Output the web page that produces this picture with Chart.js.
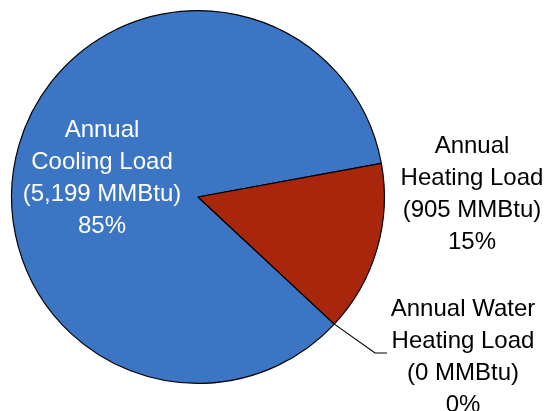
<!DOCTYPE html>
<html>
<head>
<meta charset="utf-8">
<script src="https://cdn.jsdelivr.net/npm/chart.js@4"></script>
<style>
  html, body { margin: 0; padding: 0; background: #fff; }
  #pie { display: block; }
</style>
</head>
<body>
<canvas id="pie" width="546" height="411"></canvas>
<script>
// data
const loadNames = [
  ['Annual', 'Cooling Load'],
  ['Annual', 'Heating Load'],
  ['Annual Water', 'Heating Load']
];
const loadValues = [5199, 905, 0];   // MMBtu
const sliceColors = ['#3b75c4', '#a8260b', '#ffffff'];
const labelColors = ['#ffffff', '#000000', '#000000'];

// label placement relative to pie centre (x of text centre, y of first baseline)
const labelOffsets = [[-96, -60], [274, -44], [265, 119]];
const lineGap = 32;

const total = loadValues.reduce((a, b) => a + b, 0);

const pieLabels = {
  id: 'pieLabels',
  afterDatasetsDraw(chart) {
    const ctx = chart.ctx;
    const arcs = chart.getDatasetMeta(0).data;
    const cx = arcs[0].x, cy = arcs[0].y;

    // leader line for the 0 slice
    const w = arcs[2];
    const r = w.outerRadius;
    ctx.save();
    ctx.strokeStyle = '#000';
    ctx.lineWidth = 1.2;
    ctx.beginPath();
    ctx.moveTo(cx + Math.cos(w.startAngle) * r, cy + Math.sin(w.startAngle) * r);
    ctx.lineTo(cx + 177, cy + 156);
    ctx.lineTo(cx + 189, cy + 156);
    ctx.stroke();

    ctx.font = '24px "Liberation Sans", Arial, sans-serif';
    ctx.textAlign = 'center';
    ctx.textBaseline = 'alphabetic';
    loadValues.forEach((v, i) => {
      const lines = loadNames[i].concat([
        '(' + v.toLocaleString('en-US') + ' MMBtu)',
        Math.round(v / total * 100) + '%'
      ]);
      ctx.fillStyle = labelColors[i];
      lines.forEach((t, j) => {
        ctx.fillText(t, cx + labelOffsets[i][0], cy + labelOffsets[i][1] + j * lineGap);
      });
    });
    ctx.restore();
  }
};

new Chart(document.getElementById('pie'), {
  type: 'pie',
  data: {
    labels: loadNames.map(n => n.join(' ')),
    datasets: [{
      data: loadValues,
      backgroundColor: sliceColors,
      borderColor: '#000000',
      borderWidth: 1.2,
      hoverOffset: 0
    }]
  },
  options: {
    responsive: false,
    animation: false,
    rotation: 133,
    layout: { padding: { left: 11, top: 10, right: 161, bottom: 27 } },
    plugins: {
      legend: { display: false },
      tooltip: { enabled: false }
    }
  },
  plugins: [pieLabels]
});
</script>
</body>
</html>
